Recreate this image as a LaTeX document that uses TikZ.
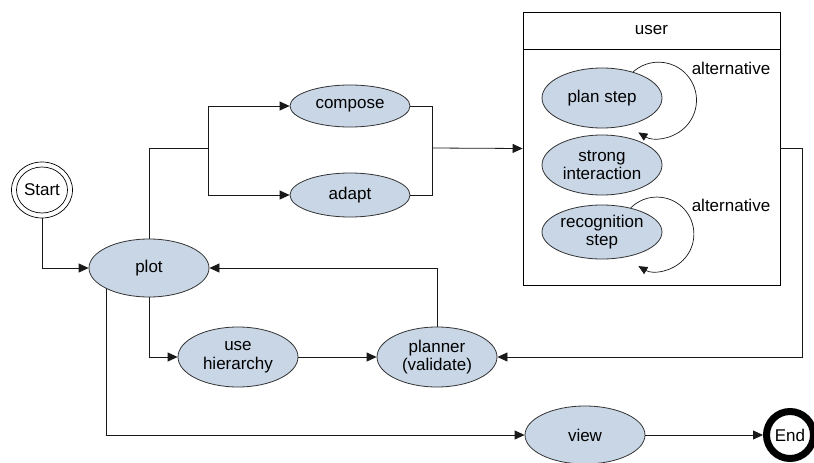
\documentclass[tikz,border=0pt]{standalone}
\usepackage{fontspec}
\setmainfont{Liberation Sans}
\usetikzlibrary{shapes.geometric,arrows.meta}
\definecolor{stfill}{RGB}{200,214,230}
\begin{document}
\begin{tikzpicture}[x=1pt,y=-1pt,
    every node/.style={font=\fontsize{17}{18.5}\selectfont},
    state/.style={ellipse,draw=black!80,line width=0.8pt,fill=stfill,
      minimum width=120pt,minimum height=58pt,inner sep=0pt,align=center},
    conn/.style={line width=0.8pt,draw=black!90},
    tip/.style={-{Triangle[length=10pt,width=9pt]}},
    smalltip/.style={-{Triangle[length=9pt,width=8pt]}}]
  \useasboundingbox (0,0) rectangle (814,463);
  % start and end
  \node[ellipse,draw,line width=0.7pt,minimum width=61pt,minimum height=56pt,
        inner sep=0pt] (start) at (42,190) {};
  \node[ellipse,draw,line width=0.7pt,minimum width=51pt,minimum height=46pt,
        inner sep=0pt] (startin) at (42,190) {Start};
  \node[circle,draw,line width=7pt,minimum size=47pt,inner sep=0pt] (end)
        at (790,435) {End};
  % states
  \node[state] (plot) at (149,268) {plot};
  \node[state,minimum height=42pt] (compose) at (350,106) {compose};
  \node[state,minimum height=44pt] (adapt) at (350,195) {adapt};
  \node[state,minimum height=60pt] (usehier) at (238,357) {use\\hierarchy};
  \node[state,minimum height=60pt] (planner) at (437,357) {planner\\(validate)};
  \node[state] (view) at (585,435) {view};
  % user box
  \node[draw,line width=0.8pt,minimum width=257pt,minimum height=273pt,
        inner sep=0pt] (userbox) at (651.5,148.5) {};
  \node[draw,line width=0.8pt,minimum width=257pt,minimum height=37pt,
        inner sep=0pt,anchor=north] (user) at (userbox.north) {user};
  \node[state,minimum height=60pt] (planstep) at (602,98) {plan step};
  \node[state,minimum height=60pt] (strong) at (602,165) {strong\\interaction};
  \node[state,minimum height=54pt] (recog) at (602,232) {recognition\\step};
  \node (alt1) at (731,68) {alternative};
  \node (alt2) at (731,205) {alternative};
  \coordinate (fork) at (208,148);
  \coordinate (join) at (432,148);
  \begin{scope}[conn]
    \draw[tip] (start.south) |- (plot.west);
    \draw (plot.north) |- (fork);
    \draw[tip] (fork) |- (compose.west);
    \draw[tip] (fork) |- (adapt.west);
    \draw (compose.east) -| (join);
    \draw (adapt.east) -| (join);
    \draw[tip] (join) -- (userbox.west);
    \draw[tip] (userbox.east) -- ++(22,0) |- (planner.east);
    \draw[tip] (plot.south) |- (usehier.west);
    \draw[tip] (usehier) -- (planner);
    \draw[tip] (planner.north) |- (plot.east);
    \draw[tip] (plot.south west) |- (view.west);
    \draw[tip] (view) -- (end);
    \draw[smalltip,line width=0.7pt] (planstep.40)
      arc[start angle=132,end angle=-122,radius=38pt];
    \draw[smalltip,line width=0.7pt] (recog.40)
      arc[start angle=135,end angle=-120,radius=37pt];
  \end{scope}
\end{tikzpicture}
\end{document}
